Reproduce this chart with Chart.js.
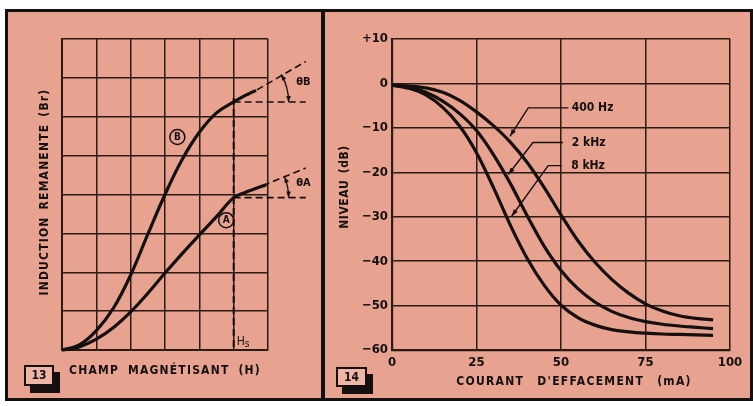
<!DOCTYPE html>
<html>
<head>
<meta charset="utf-8">
<script src="https://cdn.jsdelivr.net/npm/chart.js@4/dist/chart.umd.min.js"></script>
<style>
  html, body { margin: 0; padding: 0; background: #ffffff; }
  #fig { position: relative; width: 753px; height: 406px; overflow: hidden; background: #ffffff; }
  .frame { position: absolute; left: 5px; top: 9px; width: 742px; height: 386px;
           border: 3px solid #141010; background: #e8a290; }
  .divider { position: absolute; left: 321px; top: 9px; width: 4px; height: 392px; background: #141010; }
  canvas { position: absolute; }
  .tag { position: absolute; box-sizing: border-box; border: 2px solid #141010; background: #efb6a5;
         font: bold 12px "DejaVu Sans Condensed", "Liberation Sans Narrow", "DejaVu Sans", sans-serif;
         color: #141010; text-align: center; box-shadow: 6px 7px 0 #141010; }
</style>
</head>
<body>
<div id="fig">
  <div class="frame"></div>
  <div class="divider"></div>
  <canvas id="c13" width="312" height="386" style="left:8px;top:12px;width:312px;height:386px"></canvas>
  <canvas id="c14" width="424" height="386" style="left:325px;top:12px;width:424px;height:386px"></canvas>
  <div class="tag" style="left:24px;top:365px;width:30px;height:21px;line-height:17px">13</div>
  <div class="tag" style="left:336px;top:367px;width:31px;height:20px;line-height:16px">14</div>
</div>
<script>
// ---------- Fig. 13 : remanent induction vs magnetising field (grid units) ----------
const fieldB      = [0, 0.5, 1, 1.5, 2, 2.5, 3, 3.5, 4, 4.5, 5, 5.3, 5.65];
const inductionB  = [0, 0.13, 0.5, 1.08, 1.93, 2.98, 4.0, 4.9, 5.6, 6.1, 6.38, 6.53, 6.68];
const fieldA      = [0, 0.5, 1, 1.5, 2, 2.5, 3, 3.5, 4, 4.5, 5, 5.3, 5.6, 5.95];
const inductionA  = [0, 0.08, 0.28, 0.58, 0.98, 1.46, 1.98, 2.48, 2.96, 3.43, 3.92, 4.04, 4.14, 4.25];
const saturationH = 5;                 // Hs
const levelB      = 6.38;              // Br of curve B at Hs
const levelA      = 3.92;              // Br of curve A at Hs
const tangentBH   = [5.4, 7.1];
const tangentBY   = [6.55, 7.42];
const tangentAH   = [5.55, 7.1];
const tangentAY   = [4.12, 4.68];
const referenceEndH = 7.1;

// ---------- Fig. 14 : level vs erase current ----------
const currentMA  = [0, 5, 10, 15, 20, 25, 30, 35, 40, 45, 50, 55, 60, 65, 70, 75, 80, 85, 90, 95];
const level400Hz = [-0.4, -0.6, -1.0, -2.0, -3.8, -6.4, -9.5, -13.2, -17.8, -23.4, -29.6, -35.4, -40.2, -44.1, -47.2, -49.6, -51.2, -52.3, -52.9, -53.2];
const level2kHz  = [-0.4, -0.9, -2.0, -4.0, -6.8, -10.6, -16.0, -22.5, -29.8, -36.6, -42.1, -46.2, -49.2, -51.3, -52.7, -53.6, -54.2, -54.6, -54.9, -55.2];
const level8kHz  = [-0.4, -1.1, -2.6, -5.4, -9.6, -15.6, -23.4, -31.9, -39.4, -45.4, -49.9, -52.7, -54.4, -55.4, -55.9, -56.2, -56.4, -56.5, -56.6, -56.7];
const seriesNames = ['400 Hz', '2 kHz', '8 kHz'];
const currentTicks = [0, 25, 50, 75, 100];
const levelTicks   = [-60, -50, -40, -30, -20, -10, 0, 10];

const FONT = '"DejaVu Sans Condensed", "Liberation Sans Narrow", "DejaVu Sans", sans-serif';
const INK = '#141010';
const GRID = '#2b1b15';

const pairs = (xs, ys) => xs.map((x, i) => ({ x, y: ys[i] }));

function curve(xs, ys, extra) {
  return Object.assign({
    data: pairs(xs, ys), borderColor: INK, borderWidth: 3.2, pointRadius: 0,
    cubicInterpolationMode: 'monotone', fill: false, clip: false
  }, extra || {});
}
function dashed(xs, ys, w) {
  return { data: pairs(xs, ys), borderColor: INK, borderWidth: w || 1.6, borderDash: [7, 4],
           pointRadius: 0, tension: 0, fill: false, clip: false };
}

function spacedText(ctx, text, x, y, o) {
  ctx.save();
  ctx.font = o.font;
  ctx.fillStyle = INK;
  if ('letterSpacing' in ctx) ctx.letterSpacing = o.letter || '0px';
  if ('wordSpacing' in ctx) ctx.wordSpacing = o.word || '0px';
  ctx.textAlign = o.align || 'center';
  ctx.textBaseline = 'middle';
  ctx.translate(x, y);
  if (o.rotate) ctx.rotate(o.rotate);
  ctx.fillText(text, 0, 0);
  ctx.restore();
}

function arrowHead(ctx, tx, ty, dx, dy, len, half) {
  const n = Math.hypot(dx, dy); dx /= n; dy /= n;
  ctx.beginPath();
  ctx.moveTo(tx, ty);
  ctx.lineTo(tx - dx * len - dy * half, ty - dy * len + dx * half);
  ctx.lineTo(tx - dx * len + dy * half, ty - dy * len - dx * half);
  ctx.closePath();
  ctx.fill();
}

// θ angle marks, circled curve names and Hs label for fig. 13
const fig13Marks = {
  id: 'fig13Marks',
  afterDatasetsDraw(chart) {
    const { ctx, scales: { x, y }, chartArea: a } = chart;
    ctx.save();
    ctx.strokeStyle = INK; ctx.fillStyle = INK;

    // angle arcs between tangent and horizontal reference
    const marks = [
      { level: levelB, th: tangentBH, ty: tangentBY, name: 'θB', labelY: 6.9 },
      { level: levelA, th: tangentAH, ty: tangentAY, name: 'θA', labelY: 4.3 }
    ];
    marks.forEach(m => {
      const cx = x.getPixelForValue(saturationH), cy = y.getPixelForValue(m.level);
      const r = x.getPixelForValue(saturationH + 1.6) - cx;
      const dx = x.getPixelForValue(m.th[1]) - x.getPixelForValue(m.th[0]);
      const dy = y.getPixelForValue(m.ty[1]) - y.getPixelForValue(m.ty[0]);
      const ang = Math.atan2(dy, dx);
      ctx.lineWidth = 1.3;
      ctx.beginPath();
      ctx.arc(cx, cy, r, ang, 0);
      ctx.stroke();
      arrowHead(ctx, cx + r * Math.cos(ang), cy + r * Math.sin(ang), Math.sin(ang), -Math.cos(ang), 6, 2.3);
      arrowHead(ctx, cx + r, cy, 0, 1, 6, 2.3);
      spacedText(ctx, m.name, x.getPixelForValue(6.82), y.getPixelForValue(m.labelY),
                 { font: 'bold 11px ' + FONT, align: 'left' });
    });

    // circled curve names
    [['B', 3.36, 5.48], ['A', 4.78, 3.34]].forEach(([t, gx, gy]) => {
      const px = x.getPixelForValue(gx), py = y.getPixelForValue(gy);
      ctx.lineWidth = 1.5;
      ctx.beginPath(); ctx.arc(px, py, 7.5, 0, Math.PI * 2); ctx.stroke();
      spacedText(ctx, t, px, py + 0.5, { font: 'bold 10px ' + FONT });
    });

    // Hs
    const hx = x.getPixelForValue(saturationH) + 3, hy = a.bottom - 6;
    ctx.font = '12px ' + FONT; ctx.textBaseline = 'middle'; ctx.textAlign = 'left';
    ctx.fillText('H', hx, hy - 2);
    const w = ctx.measureText('H').width;
    ctx.font = '10px ' + FONT;
    ctx.fillText('s', hx + w, hy);

    // axis titles
    spacedText(ctx, 'INDUCTION REMANENTE (Br)', a.left - 17, 180,
               { font: 'bold 12px ' + FONT, letter: '1.2px', word: '2px', rotate: -Math.PI / 2 });
    spacedText(ctx, 'CHAMP MAGNÉTISANT (H)', a.left + 103, a.bottom + 21,
               { font: 'bold 12px ' + FONT, letter: '1.2px', word: '4px' });
    ctx.restore();
  }
};

new Chart(document.getElementById('c13'), {
  type: 'line',
  data: {
    datasets: [
      curve(fieldB, inductionB, { cubicInterpolationMode: 'default', tension: 0.4 }),
      curve(fieldA, inductionA, { cubicInterpolationMode: 'default', tension: 0.4 }),
      dashed(tangentBH, tangentBY),
      dashed(tangentAH, tangentAY),
      dashed([saturationH, referenceEndH], [levelB, levelB]),
      dashed([saturationH, referenceEndH], [levelA, levelA]),
      dashed([saturationH, saturationH], [levelB + 0.1, 0], 2)
    ]
  },
  options: {
    responsive: false, animation: false, devicePixelRatio: 1,
    layout: { padding: { top: 27, right: 52, left: 0, bottom: 0 } },
    plugins: { legend: { display: false }, tooltip: { enabled: false } },
    scales: {
      x: { type: 'linear', min: 0, max: 6,
           ticks: { display: false, stepSize: 1 },
           grid: { color: GRID, lineWidth: 1.5, drawTicks: false },
           border: { color: GRID, width: 2 },
           afterFit: s => { s.height = 48; } },
      y: { type: 'linear', min: 0, max: 8,
           ticks: { display: false, stepSize: 1 },
           grid: { color: GRID, lineWidth: 1.5, drawTicks: false },
           border: { color: GRID, width: 2 },
           afterFit: s => { s.width = 54; } }
    }
  },
  plugins: [fig13Marks]
});

// leader lines with arrowheads naming each curve of fig. 14 (mA, dB)
const leaderLayout = [
  { text: [53.2, -5.5],  elbow: [40.3, -5.5],  tip: [34.9, -11.9], start: 52.2 },
  { text: [53.2, -13.3], elbow: [41.7, -13.3], tip: [34.4, -20.5], start: 50.6 },
  { text: [53.0, -18.5], elbow: [46.2, -18.5], tip: [35.4, -29.9], start: 50.2 }
];

const fig14Marks = {
  id: 'fig14Marks',
  afterDatasetsDraw(chart) {
    const { ctx, scales: { x, y }, chartArea: a } = chart;
    ctx.save();
    ctx.strokeStyle = INK; ctx.fillStyle = INK; ctx.lineWidth = 1.4;
    leaderLayout.forEach((l, i) => {
      const sx = x.getPixelForValue(l.start), sy = y.getPixelForValue(l.text[1]);
      const ex = x.getPixelForValue(l.elbow[0]), ey = y.getPixelForValue(l.elbow[1]);
      const tx = x.getPixelForValue(l.tip[0]), ty = y.getPixelForValue(l.tip[1]);
      ctx.beginPath(); ctx.moveTo(sx, sy); ctx.lineTo(ex, ey); ctx.lineTo(tx, ty); ctx.stroke();
      arrowHead(ctx, tx, ty, tx - ex, ty - ey, 7, 2.4);
      spacedText(ctx, seriesNames[i], x.getPixelForValue(l.text[0]), sy,
                 { font: 'bold 12px ' + FONT, align: 'left' });
    });
    spacedText(ctx, 'NIVEAU (dB)', a.left - 47, 175,
               { font: 'bold 12px ' + FONT, letter: '0.6px', word: '2px', rotate: -Math.PI / 2 });
    spacedText(ctx, "COURANT D'EFFACEMENT (mA)", 249, a.bottom + 32,
               { font: 'bold 12px ' + FONT, letter: '1.3px', word: '8px' });
    ctx.restore();
  }
};

new Chart(document.getElementById('c14'), {
  type: 'line',
  data: {
    datasets: [
      curve(currentMA, level400Hz, { label: seriesNames[0] }),
      curve(currentMA, level2kHz,  { label: seriesNames[1] }),
      curve(currentMA, level8kHz,  { label: seriesNames[2] })
    ]
  },
  options: {
    responsive: false, animation: false, devicePixelRatio: 1,
    layout: { padding: { top: 27, right: 19, left: 0, bottom: 0 } },
    plugins: { legend: { display: false }, tooltip: { enabled: false } },
    scales: {
      x: { type: 'linear', min: 0, max: 100,
           afterBuildTicks: s => { s.ticks = currentTicks.map(v => ({ value: v })); },
           ticks: { color: INK, padding: 5, font: { family: FONT, size: 13, weight: 'bold' } },
           grid: { color: GRID, lineWidth: 1.5, drawTicks: false },
           border: { color: GRID, width: 2.2 },
           afterFit: s => { s.height = 48; } },
      y: { type: 'linear', min: -60, max: 10,
           afterBuildTicks: s => { s.ticks = levelTicks.map(v => ({ value: v })); },
           ticks: { color: INK, padding: 4, font: { family: FONT, size: 13, weight: 'bold' },
                    callback: v => v > 0 ? '+' + v : (v < 0 ? '\u2212' + Math.abs(v) : '0') },
           grid: { color: GRID, lineWidth: 1.5, drawTicks: false },
           border: { color: GRID, width: 2.2 },
           afterFit: s => { s.width = 67; } }
    }
  },
  plugins: [fig14Marks]
});
</script>
</body>
</html>
